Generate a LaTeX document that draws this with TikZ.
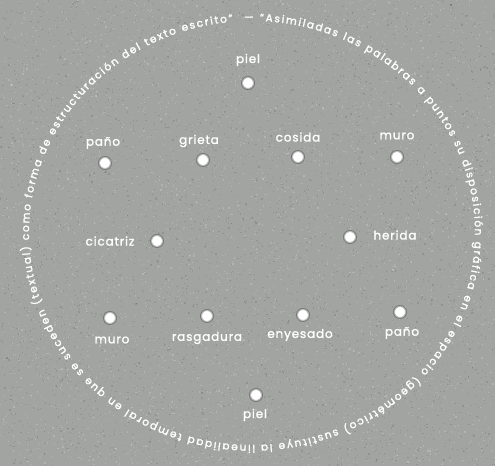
\documentclass[tikz,border=0pt]{standalone}
\usepackage{fontspec}
\setmainfont{Poppins}
\newfontfamily\labfont[LetterSpace=7,FakeBold=1.3]{Poppins}
\newfontfamily\ringfont[FakeBold=1.8]{Poppins}
\usetikzlibrary{decorations.text}
\definecolor{bgray}{RGB}{162,164,162}
\begin{document}
\begin{tikzpicture}[x=1pt,y=1pt,
  dot/.style={circle,fill=white,minimum size=12pt,inner sep=0pt,draw=black,draw opacity=0.25,line width=2pt},
  lab/.style={text=white,font=\labfont\fontsize{12}{14}\selectfont,inner sep=0pt}]
\fill[bgray] (0,0) rectangle (495,466);
\useasboundingbox (0,0) rectangle (495,466);
\pgfmathsetseed{7}
\foreach \i in {1,...,4000}{\fill[white,opacity=0.18] ({rnd*495},{rnd*466}) rectangle ++(1.2,1.2);}
\foreach \i in {1,...,4000}{\fill[black,opacity=0.1] ({rnd*495},{rnd*466}) rectangle ++(1.2,1.2);}
% circular quotation
\path[decorate,decoration={text along path,text color=white,
  text={|\ringfont\fontsize{10.5}{12}\selectfont|— “Asimiladas las palabras a puntos su disposición gráfica en el espacio (geométrico) sustituye la linealidad temporal en que se suceden (textual) como forma de estructuración del texto escrito”},
  text align={fit to path}}]
  (252,233) ++(92:223pt and 212pt) arc[start angle=92,end angle=-265,x radius=223pt,y radius=212pt];
% dots
\node[dot] (d1) at (248,383) {};
\node[dot] (d2) at (105,303) {};
\node[dot] (d3) at (203,306) {};
\node[dot] (d4) at (298,309) {};
\node[dot] (d5) at (397,309) {};
\node[dot] (d6) at (157,225) {};
\node[dot] (d7) at (350,229) {};
\node[dot] (d8) at (110,148) {};
\node[dot] (d9) at (207,150) {};
\node[dot] (d10) at (303,151) {};
\node[dot] (d11) at (400,154) {};
\node[dot] (d12) at (256,71) {};
% labels
\node[lab] (l1) at (248,406) {piel};
\node[lab] (l2) at (103,323) {paño};
\node[lab] (l3) at (199,325) {grieta};
\node[lab] (l4) at (298,329) {cosida};
\node[lab] (l5) at (397,330) {muro};
\node[lab] (l6) at (110,225) {cicatriz};
\node[lab] (l7) at (395,231) {herida};
\node[lab] (l8) at (112,126) {muro};
\node[lab] (l9) at (207,128) {rasgadura};
\node[lab] (l10) at (300,131) {enyesado};
\node[lab] (l11) at (402,133) {paño};
\node[lab] (l12) at (255,51) {piel};
\end{tikzpicture}
\end{document}
